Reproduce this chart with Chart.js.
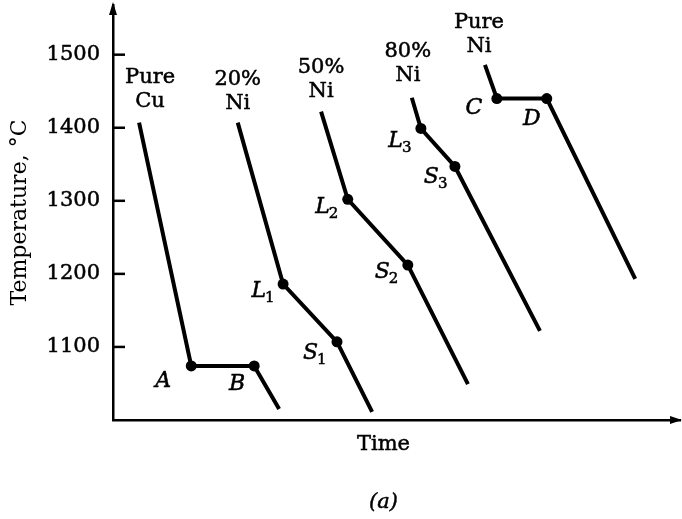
<!DOCTYPE html>
<html>
<head>
<meta charset="utf-8">
<script src="https://cdn.jsdelivr.net/npm/chart.js@4"></script>
<style>
  html, body { margin: 0; padding: 0; background: #fff; }
</style>
</head>
<body>
<canvas id="coolingCurves" width="682" height="519"></canvas>
<script>
  // cooling curves, time is arbitrary (0-100), temperature in deg C
  const yTicks = [1100, 1200, 1300, 1400, 1500];

  const curveNames = [["Pure", "Cu"], ["20%", "Ni"], ["50%", "Ni"], ["80%", "Ni"], ["Pure", "Ni"]];

  const cuTime = [4.6, 13.8, 24.9, 29.3];
  const cuTemp = [1407, 1074, 1074, 1015];
  const cuPoints = ["", "A", "B", ""];

  const ni20Time = [22.0, 30.0, 39.5, 45.7];
  const ni20Temp = [1407, 1186, 1107, 1011];
  const ni20Points = ["", "L1", "S1", ""];

  const ni50Time = [36.7, 41.4, 52.0, 62.6];
  const ni50Temp = [1422, 1302, 1212, 1049];
  const ni50Points = ["", "L2", "S2", ""];

  const ni80Time = [52.7, 54.3, 60.3, 75.3];
  const ni80Temp = [1441, 1399, 1347, 1122];
  const ni80Points = ["", "L3", "S3", ""];

  const niTime = [65.6, 67.7, 76.5, 92.1];
  const niTemp = [1486, 1440, 1440, 1193];
  const niPoints = ["", "C", "D", ""];

  const allTimes = [cuTime, ni20Time, ni50Time, ni80Time, niTime];
  const allTemps = [cuTemp, ni20Temp, ni50Temp, ni80Temp, niTemp];
  const allPoints = [cuPoints, ni20Points, ni50Points, ni80Points, niPoints];

  // label offsets in pixels (style only)
  const nameOffsets = [[11, 0], [0, 2], [0, 1], [-4, -1], [-6, 3]];
  const letterOffsets = {
    A: [-28, 15], B: [-17, 18], L1: [-20, 7], S1: [-22, 11], L2: [-21, 8],
    S2: [-21, 7], L3: [-21, 13], S3: [-19, 11], C: [-23, 10], D: [-15, 21]
  };

  const serif = "'DejaVu Serif', 'Liberation Serif', serif";
  Chart.defaults.font.family = serif;
  Chart.defaults.color = "#000";

  // slightly heavier text, like the printed figure
  function ink(ctx, text, x, y) {
    ctx.fillText(text, x, y);
    ctx.strokeText(text, x, y);
  }

  const annotate = {
    id: "annotate",
    afterDraw(chart) {
      const ctx = chart.ctx;
      const xs = chart.scales.x;
      const ys = chart.scales.y;
      const area = chart.chartArea;
      ctx.save();
      ctx.fillStyle = "#000";
      ctx.strokeStyle = "#000";

      // inward ticks on the temperature axis
      ctx.lineWidth = 2.5;
      yTicks.forEach(v => {
        const py = ys.getPixelForValue(v);
        ctx.beginPath();
        ctx.moveTo(area.left, py);
        ctx.lineTo(area.left + 12, py);
        ctx.stroke();
      });

      // arrow heads
      ctx.beginPath();
      ctx.moveTo(area.left, area.top - 3);
      ctx.lineTo(area.left - 4, area.top + 10);
      ctx.lineTo(area.left + 4, area.top + 10);
      ctx.closePath();
      ctx.fill();
      ctx.beginPath();
      ctx.moveTo(area.right + 2, area.bottom);
      ctx.lineTo(area.right - 10, area.bottom - 4);
      ctx.lineTo(area.right - 10, area.bottom + 4);
      ctx.closePath();
      ctx.fill();

      ctx.lineWidth = 0.5;

      // curve names above the first point
      ctx.font = "21px " + serif;
      ctx.textAlign = "center";
      ctx.textBaseline = "middle";
      curveNames.forEach((name, i) => {
        const px = xs.getPixelForValue(allTimes[i][0]) + nameOffsets[i][0];
        const py = ys.getPixelForValue(allTemps[i][0]) + nameOffsets[i][1];
        ink(ctx, name[0], px, py - 45);
        ink(ctx, name[1], px, py - 21);
      });

      // point letters, italic with subscript
      allPoints.forEach((names, i) => {
        names.forEach((n, j) => {
          if (!n) return;
          const off = letterOffsets[n];
          const px = xs.getPixelForValue(allTimes[i][j]) + off[0];
          const py = ys.getPixelForValue(allTemps[i][j]) + off[1];
          ctx.font = "italic 22px " + serif;
          ctx.textAlign = "center";
          if (n.length === 1) {
            ink(ctx, n, px, py);
          } else {
            ctx.textAlign = "right";
            ink(ctx, n[0], px + 3, py);
            ctx.font = "15px " + serif;
            ctx.textAlign = "left";
            ink(ctx, n[1], px + 2, py + 7);
          }
        });
      });

      // axis title and caption
      ctx.textAlign = "center";
      ctx.font = "21px " + serif;
      const cx = area.left + area.width * 0.477;
      ink(ctx, "Time", cx, area.bottom + 25);
      ctx.font = "italic 21px " + serif;
      ink(ctx, "(a)", cx, area.bottom + 83);
      ctx.restore();
    }
  };

  function makeDataset(times, temps, names) {
    return {
      data: times.map((t, k) => ({ x: t, y: temps[k] })),
      borderColor: "#000",
      backgroundColor: "#000",
      borderWidth: 4,
      pointRadius: names.map(n => (n ? 5.5 : 0)),
      pointHoverRadius: names.map(n => (n ? 5.5 : 0)),
      pointBorderWidth: 0,
      tension: 0,
      clip: false
    };
  }

  const ctx = document.getElementById("coolingCurves").getContext("2d");
  const chart = new Chart(ctx, {
    type: "line",
    data: {
      datasets: allTimes.map((t, i) => makeDataset(t, allTemps[i], allPoints[i]))
    },
    options: {
      responsive: false,
      animation: false,
      events: [],
      layout: { padding: { top: 5, right: 2, left: 0, bottom: 0 } },
      plugins: {
        legend: { display: false },
        tooltip: { enabled: false }
      },
      scales: {
        x: {
          type: "linear",
          min: 0,
          max: 100,
          afterFit: s => { s.height = 99; s.paddingLeft = 0; s.paddingRight = 0; },
          grid: { drawOnChartArea: false, drawTicks: false },
          border: { color: "#000", width: 2.5 },
          ticks: { display: false }
        },
        y: {
          min: 1000,
          max: 1568,
          afterBuildTicks: s => { s.ticks = yTicks.map(v => ({ value: v })); },
          afterFit: s => { s.width = 113; s.paddingTop = 0; s.paddingBottom = 0; },
          grid: { drawOnChartArea: false, drawTicks: false },
          border: { color: "#000", width: 2.5 },
          ticks: {
            color: "#000",
            font: { size: 21 },
            padding: 13,
            textStrokeColor: "#000",
            textStrokeWidth: 0.5,
            callback: v => String(v)
          },
          title: {
            display: true,
            text: "Temperature, °C",
            color: "#000",
            font: { size: 22 },
            padding: 7
          }
        }
      }
    },
    plugins: [annotate]
  });
</script>
</body>
</html>
